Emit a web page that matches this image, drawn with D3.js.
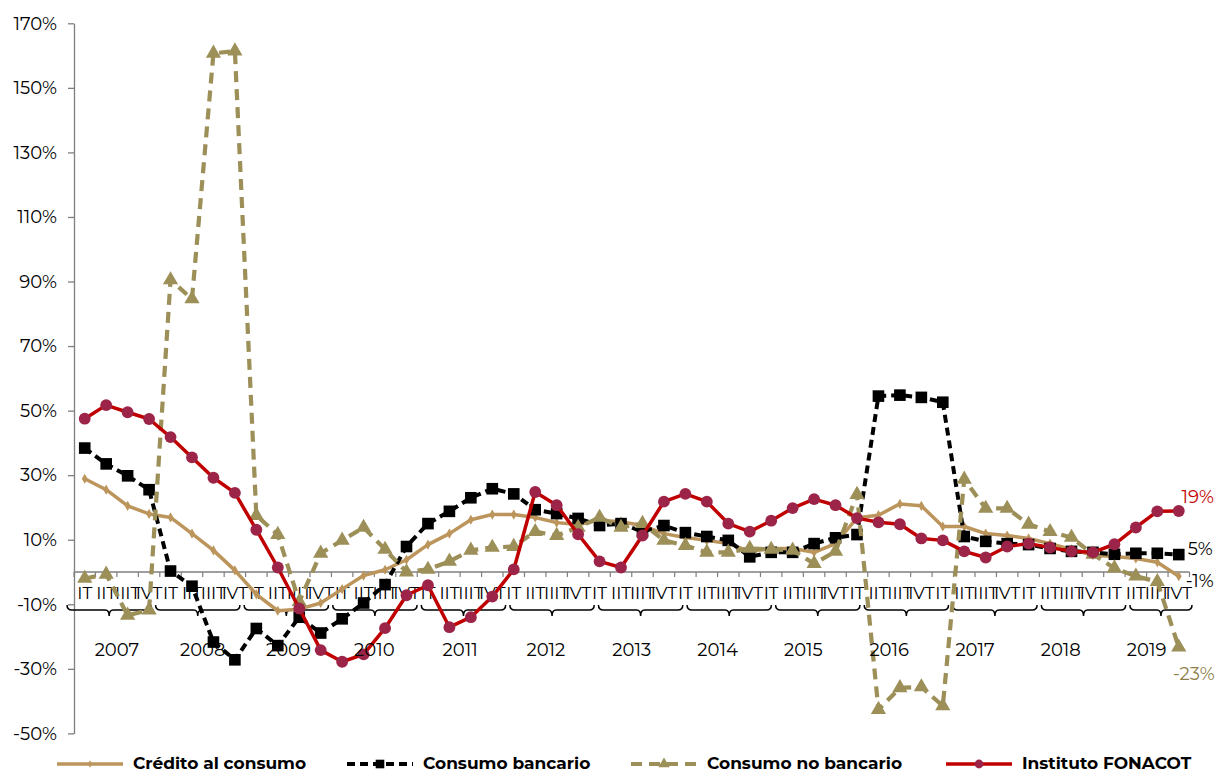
<!DOCTYPE html>
<meta charset="utf-8">
<script src="https://cdn.jsdelivr.net/npm/d3@7"></script>
<style>
body { margin: 0; background: #fff; }
text { font-family: Montserrat, Lato, sans-serif; fill: #000; }
.axis text { font-size: 18px; }
.axis path, .axis line { stroke: #7f7f7f; stroke-width: 1.3px; }
.qlabel { font-size: 17px; }
.ylabel { font-size: 18px; }
.legend text { font-size: 17px; font-weight: bold; }
</style>
<body>
<script>

// categories
var years = ["2007","2008","2009","2010","2011","2012","2013","2014","2015","2016","2017","2018","2019"];
var quarters = ["IT","IIT","IIIT","IVT"];
var yTicks = [-50,-30,-10,10,30,50,70,90,110,130,150,170];

// series (% anual)
var credito = [28.9,25.5,20.5,18.0,16.9,11.9,6.7,0.5,-6.9,-12.0,
  -11.5,-9.6,-5.3,-1.1,0.7,3.8,8.5,11.9,16.2,17.8,
  17.8,16.9,15.3,14.7,16.0,15.6,14.4,11.9,10.7,9.8,
  8.8,6.4,7.3,7.3,6.1,8.8,16.8,17.6,21.1,20.5,
  14.1,14.1,11.9,11.3,10.4,8.8,7.0,5.2,4.8,4.2,
  3.0,-1.3];
var bancario = [38.4,33.5,29.8,25.5,0.3,-4.4,-21.7,-27.2,-17.5,-22.8,
  -14.0,-18.9,-14.5,-9.6,-3.9,7.9,15.0,18.8,23.0,25.8,
  24.2,19.3,18.1,16.6,14.4,15.0,12.5,14.4,12.2,11.0,
  9.8,4.7,6.1,6.1,8.8,10.6,11.6,54.5,54.8,54.1,
  52.6,11.0,9.5,8.8,8.5,7.3,6.4,6.1,5.5,5.8,
  5.8,5.4];
var noBancario = [-2.0,-0.7,-13.4,-11.8,90.5,84.6,160.7,161.4,17.5,11.6,
  -9.2,5.8,9.8,13.8,7.0,0.0,0.8,3.3,6.7,7.6,
  7.9,12.5,11.3,13.8,16.9,13.8,15.0,9.8,8.2,6.1,
  6.1,7.3,7.0,6.7,2.6,6.4,24.0,-42.6,-35.9,-35.6,
  -41.5,28.7,19.7,19.7,14.8,12.5,10.7,5.5,1.2,-1.3,
  -3.0,-23.3];
var fonacot = [47.5,51.7,49.5,47.4,41.8,35.5,29.2,24.5,13.1,1.4,
  -11.3,-24.2,-27.8,-25.5,-17.4,-7.2,-4.1,-17.1,-14.0,-7.6,
  0.8,24.8,20.7,11.7,3.3,1.4,11.3,21.8,24.2,21.8,
  15.0,12.5,15.9,19.8,22.6,20.7,16.7,15.4,14.8,10.4,
  9.8,6.4,4.5,7.9,8.8,7.6,6.4,6.1,8.6,13.8,
  18.8,18.9];

var width = 1217, height = 772;
var svg = d3.select("body").append("svg")
    .attr("width", width)
    .attr("height", height);

var n = credito.length;
var x = d3.scaleBand().domain(d3.range(n)).range([74, 1189.5]);
var cx = function(i) { return x(i) + x.bandwidth() / 2; };
var y = d3.scaleLinear().domain([-50, 170]).range([733.4, 23.3]);

// y axis
svg.append("g")
    .attr("class", "axis")
    .attr("transform", "translate(74,0)")
    .call(d3.axisLeft(y).tickValues(yTicks).tickSize(6).tickSizeOuter(0).tickPadding(11)
      .tickFormat(function(d) { return d + "%"; }));

// zero line with category ticks
var x0 = y(0);
svg.append("line")
    .attr("x1", x.range()[0]).attr("x2", x.range()[1])
    .attr("y1", x0).attr("y2", x0)
    .style("stroke", "#7f7f7f").style("stroke-width", 1.3);
svg.append("g").selectAll("line")
    .data(d3.range(n + 1))
    .enter().append("line")
    .attr("x1", function(i) { return 74 + i * x.step(); })
    .attr("x2", function(i) { return 74 + i * x.step(); })
    .attr("y1", x0).attr("y2", x0 + 5)
    .style("stroke", "#7f7f7f").style("stroke-width", 1.2);

// quarter labels
svg.append("g").selectAll("text")
    .data(d3.range(n))
    .enter().append("text")
    .attr("class", "qlabel")
    .attr("x", function(i) { return cx(i); })
    .attr("y", x0 + 27)
    .attr("text-anchor", "middle")
    .text(function(i) { return quarters[i % 4]; });

// year brackets
var bx = d3.scaleBand().domain(years).range([67, 67 + years.length * 88.25]).paddingInner(0.048).paddingOuter(0);
var by = x0 + 33;
svg.append("g").selectAll("path")
    .data(years)
    .enter().append("path")
    .attr("d", function(d) {
      var a = bx(d), b = Math.min(bx(d) + bx.bandwidth(), 1192), m = (a + b) / 2;
      return "M" + a + "," + by + " Q" + a + "," + (by + 5) + " " + (a + 5) + "," + (by + 5) +
        " L" + (m - 4) + "," + (by + 5) + " Q" + m + "," + (by + 5) + " " + m + "," + (by + 11) +
        " Q" + m + "," + (by + 5) + " " + (m + 4) + "," + (by + 5) +
        " L" + (b - 5) + "," + (by + 5) + " Q" + b + "," + (by + 5) + " " + b + "," + by;
    })
    .style("fill", "none").style("stroke", "#000").style("stroke-width", 1.5);

// series
var series = [
  {name: "Crédito al consumo", values: credito, color: "#BC955C", width: 3.5, dash: null,
   symbol: d3.symbolDiamond, size: 30, mcolor: "#BC955C"},
  {name: "Consumo bancario", values: bancario, color: "#000", width: 4, dash: "8,5",
   symbol: d3.symbolSquare, size: 135, mcolor: "#000"},
  {name: "Consumo no bancario", values: noBancario, color: "#9C8F58", width: 4.2, dash: "11,7",
   symbol: d3.symbolTriangle, size: 100, mcolor: "#9C8F58"},
  {name: "Instituto FONACOT", values: fonacot, color: "#C00000", width: 3.5, dash: null,
   symbol: d3.symbolCircle, size: 110, mcolor: "#9D2449"}
];

var line = d3.line()
    .x(function(d, i) { return cx(i); })
    .y(function(d) { return y(d); });

series.forEach(function(s) {
  svg.append("path")
      .datum(s.values)
      .attr("d", line)
      .style("fill", "none")
      .style("stroke", s.color)
      .style("stroke-width", s.width)
      .style("stroke-dasharray", s.dash)
      .style("stroke-linejoin", "round");
  svg.append("g").selectAll("path")
      .data(s.values)
      .enter().append("path")
      .attr("d", d3.symbol().type(s.symbol).size(s.size))
      .attr("transform", function(d, i) { return "translate(" + cx(i) + "," + y(d) + ")"; })
      .style("fill", s.mcolor);
});

// year labels
svg.append("g").selectAll("text")
    .data(years)
    .enter().append("text")
    .attr("class", "ylabel")
    .attr("x", function(d, i) { return (cx(i * 4 + 1) + cx(i * 4 + 2)) / 2; })
    .attr("y", x0 + 84)
    .attr("text-anchor", "middle")
    .text(function(d) { return d; });

// end labels
var last = n - 1;
svg.append("text").attr("x", cx(last) + 19).attr("y", y(fonacot[last]) - 8)
    .attr("text-anchor", "middle").style("font-size", "18px").style("fill", "#C00000")
    .text(Math.round(fonacot[last]) + "%");
svg.append("text").attr("x", cx(last) + 9).attr("y", y(bancario[last]) + 0)
    .style("font-size", "18px")
    .text(Math.round(bancario[last]) + "%");
svg.append("text").attr("x", cx(last) + 7).attr("y", y(credito[last]) + 11)
    .style("font-size", "18px")
    .text(Math.round(credito[last]) + "%");
svg.append("text").attr("x", cx(last) + 15).attr("y", y(noBancario[last]) + 33)
    .attr("text-anchor", "middle").style("font-size", "18px").style("fill", "#8C7F48")
    .text(Math.round(noBancario[last]) + "%");

// legend
var legX = [57, 347, 631, 946];
var legY = 764;
var leg = svg.append("g").attr("class", "legend");
series.forEach(function(s, k) {
  var g = leg.append("g").attr("transform", "translate(" + legX[k] + "," + legY + ")");
  g.append("line").attr("x1", 0).attr("x2", 66).attr("y1", 0).attr("y2", 0)
      .style("stroke", s.color).style("stroke-width", s.width)
      .style("stroke-dasharray", s.dash);
  g.append("path")
      .attr("d", d3.symbol().type(s.symbol).size(s.size * 0.55))
      .attr("transform", "translate(33,0)")
      .style("fill", s.mcolor);
  g.append("text").attr("x", 76).attr("y", 5).text(s.name);
});

</script>
</body>
